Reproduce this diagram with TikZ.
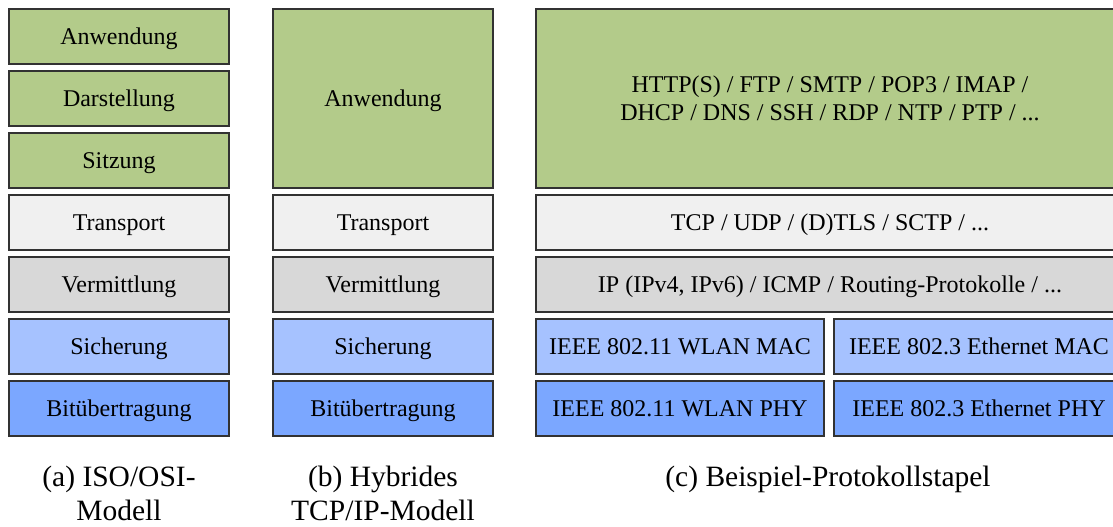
\documentclass[tikz,border=0pt]{standalone}
\usepackage{fontspec}
\setmainfont{Liberation Serif}
\definecolor{cApp}{RGB}{179,203,138}
\definecolor{cTrans}{RGB}{240,240,240}
\definecolor{cNet}{RGB}{216,216,216}
\definecolor{cLink}{RGB}{166,194,255}
\definecolor{cPhy}{RGB}{123,167,255}
\definecolor{cBorder}{RGB}{50,50,50}
\tikzset{
  layer/.style={draw=cBorder, line width=1.3pt, inner sep=0pt, align=center,
    font=\fontsize{24}{28}\selectfont, text=black, text height=16pt, text depth=0.2pt},
  multilayer/.style={draw=cBorder, line width=1.3pt, inner sep=0pt, align=center,
    font=\fontsize{24}{28}\selectfont, text=black},
  caption/.style={align=center, font=\fontsize{29.5}{34}\selectfont, inner sep=0pt},
}
\begin{document}
\begin{tikzpicture}[x=1pt,y=-1pt]
\useasboundingbox (0,0) rectangle (1113,527);
\begin{scope}
\clip (0,0) rectangle (1113,527);
% column a
\node[layer, fill=cApp,   minimum width=220pt, minimum height=55pt] (a1) at (119,36.5) {Anwendung};
\node[layer, fill=cApp,   minimum width=220pt, minimum height=55pt] (a2) at (119,98.5) {Darstellung};
\node[layer, fill=cApp,   minimum width=220pt, minimum height=55pt] (a3) at (119,160.5) {Sitzung};
\node[layer, fill=cTrans, minimum width=220pt, minimum height=55pt] (a4) at (119,222.5) {Transport};
\node[layer, fill=cNet,   minimum width=220pt, minimum height=55pt] (a5) at (119,284.5) {Vermittlung};
\node[layer, fill=cLink,  minimum width=220pt, minimum height=55pt] (a6) at (119,346.5) {Sicherung};
\node[layer, fill=cPhy,   minimum width=220pt, minimum height=55pt] (a7) at (119,408.5) {Bitübertragung};
% column b
\node[layer, fill=cApp,   minimum width=220pt, minimum height=179pt] (b1) at (383,98.5) {Anwendung};
\node[layer, fill=cTrans, minimum width=220pt, minimum height=55pt] (b4) at (383,222.5) {Transport};
\node[layer, fill=cNet,   minimum width=220pt, minimum height=55pt] (b5) at (383,284.5) {Vermittlung};
\node[layer, fill=cLink,  minimum width=220pt, minimum height=55pt] (b6) at (383,346.5) {Sicherung};
\node[layer, fill=cPhy,   minimum width=220pt, minimum height=55pt] (b7) at (383,408.5) {Bitübertragung};
% column c
\node[multilayer, fill=cApp, minimum width=588pt, minimum height=179pt] (c1) at (830,98.5) {HTTP(S) / FTP / SMTP / POP3 / IMAP /\\DHCP / DNS / SSH / RDP / NTP / PTP / ...};
\node[layer, fill=cTrans, minimum width=588pt, minimum height=55pt] (c4) at (830,222.5) {TCP / UDP / (D)TLS / SCTP / ...};
\node[layer, fill=cNet,   minimum width=588pt, minimum height=55pt] (c5) at (830,284.5) {IP (IPv4, IPv6) / ICMP / Routing-Protokolle / ...};
\node[layer, fill=cLink,  minimum width=288pt, minimum height=55pt] (c6a) at (680,346.5) {IEEE 802.11 WLAN MAC};
\node[layer, fill=cLink,  minimum width=290pt, minimum height=55pt] (c6b) at (979,346.5) {IEEE 802.3 Ethernet MAC};
\node[layer, fill=cPhy,   minimum width=288pt, minimum height=55pt] (c7a) at (680,408.5) {IEEE 802.11 WLAN PHY};
\node[layer, fill=cPhy,   minimum width=290pt, minimum height=55pt] (c7b) at (979,408.5) {IEEE 802.3 Ethernet PHY};
\end{scope}
% captions
\node[caption, anchor=north] (capa) at (119,466) {(a) ISO/OSI-\\Modell};
\node[caption, anchor=north] (capb) at (383,466) {(b) Hybrides\\TCP/IP-Modell};
\node[caption, anchor=north] (capc) at (828,466) {(c) Beispiel-Protokollstapel};
\end{tikzpicture}
\end{document}
